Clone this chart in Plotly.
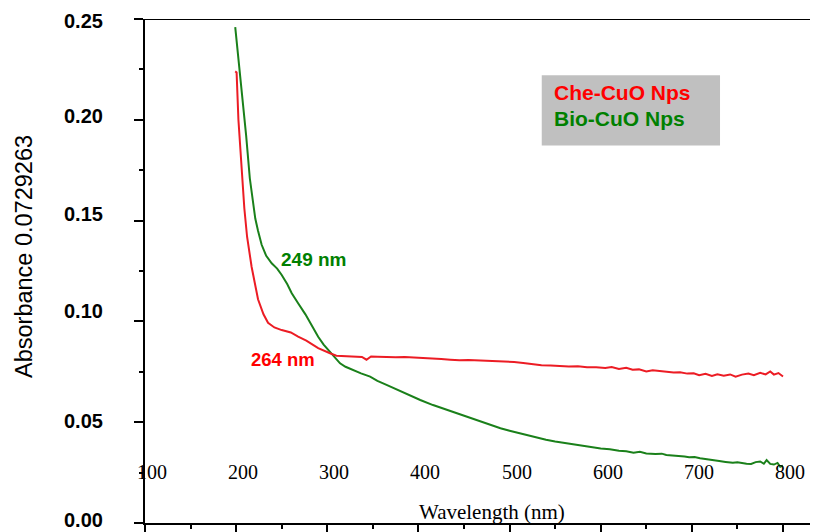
import plotly.graph_objects as go

# ---- data ----
che_nm = [199, 200.5, 202.5, 206, 209, 212, 217, 224, 230, 235, 242, 250, 260, 268, 277, 290, 298, 303,
          310, 320, 330, 338, 343, 348, 355, 365, 375, 385, 395, 405, 415, 425, 435, 445, 455, 465, 475, 485,
          495, 505, 515, 525, 535, 545, 555, 565, 575, 585, 595, 605, 612, 620, 628, 635, 642, 650, 657, 665,
          672, 680, 687, 695, 702, 708, 715, 722, 728, 735, 742, 748, 755, 762, 768, 775, 781, 786, 790, 795, 800]
che_abs = [0.2240, 0.2235, 0.2000, 0.1760, 0.1560, 0.1420, 0.1270, 0.1110, 0.1035, 0.0993, 0.0970, 0.0957, 0.0945, 0.0924, 0.0905, 0.0867, 0.0850, 0.0842,
           0.0830, 0.0828, 0.0826, 0.0824, 0.0810, 0.0826, 0.0825, 0.0823, 0.0822, 0.0823, 0.0821, 0.0820, 0.0818, 0.0814, 0.0810, 0.0807, 0.0808, 0.0806, 0.0806, 0.0804,
           0.0802, 0.0799, 0.0794, 0.0788, 0.0783, 0.0781, 0.0779, 0.0776, 0.0778, 0.0773, 0.0772, 0.0769, 0.0774, 0.0764, 0.0770, 0.0760, 0.0762, 0.0752, 0.0758, 0.0753,
           0.0751, 0.0746, 0.0748, 0.0741, 0.0743, 0.0733, 0.0740, 0.0729, 0.0738, 0.0731, 0.0737, 0.0726, 0.0736, 0.0741, 0.0733, 0.0745, 0.0737, 0.0752, 0.0736, 0.0744, 0.0727]

bio_nm = [199, 203, 207, 211, 215, 218, 221, 224, 228, 233, 239, 245, 250, 256, 261, 268, 276, 283, 290, 296,
          301, 309, 314, 320, 329, 337, 347, 355, 365, 375, 383, 392, 402, 416, 430, 443, 453, 465, 477,
          490, 500, 510, 526, 540, 550, 563, 575, 590, 600, 610, 620, 628, 636, 643, 650, 660, 667, 672, 680,
          685, 692, 697, 703, 709, 715, 720, 726, 730, 737, 745, 750, 755, 760, 765, 770, 775, 779, 782, 786,
          790, 794, 797, 800]
bio_abs = [0.2460, 0.2290, 0.2110, 0.1920, 0.1710, 0.1600, 0.1510, 0.1450, 0.1380, 0.1325, 0.1288, 0.1262, 0.1230, 0.1185, 0.1140, 0.1090, 0.1035, 0.0980, 0.0924, 0.0885,
           0.0858, 0.0815, 0.0792, 0.0775, 0.0757, 0.0742, 0.0726, 0.0705, 0.0685, 0.0665, 0.0648, 0.0628, 0.0610, 0.0585, 0.0563, 0.0542, 0.0527, 0.0508, 0.0490,
           0.0470, 0.0458, 0.0446, 0.0428, 0.0413, 0.0404, 0.0395, 0.0387, 0.0376, 0.0370, 0.0366, 0.0358, 0.0356, 0.0349, 0.0353, 0.0345, 0.0342, 0.0344, 0.0337, 0.0335,
           0.0333, 0.0330, 0.0326, 0.0327, 0.0321, 0.0316, 0.0313, 0.0309, 0.0307, 0.0303, 0.0299, 0.0301, 0.0296, 0.0294, 0.0293, 0.0302, 0.0305, 0.0294, 0.0312, 0.0293,
           0.0290, 0.0298, 0.0279, 0.0285]

x_ticks = [100, 200, 300, 400, 500, 600, 700, 800]
x_ticktext = ["100", "200", "300", "400", "500", "600", "700", "800"]
y_ticks = [0.00, 0.05, 0.10, 0.15, 0.20, 0.25]
y_ticktext = ["0.00", "0.05", "0.10", "0.15", "0.20", "0.25"]

series_names = ["Che-CuO Nps", "Bio-CuO Nps"]
peak_labels = ["264 nm", "249 nm"]

# style: vertical pixel offsets of the y tick labels relative to their ticks (as placed in the reference)
y_label_shift = [3, 1, 10, 7, 4, -2]

RED = "#ec1c24"
GREEN = "#1a801a"

fig = go.Figure()
fig.add_trace(go.Scatter(x=bio_nm, y=bio_abs, mode="lines", name=series_names[1],
                         line=dict(color=GREEN, width=2)))
fig.add_trace(go.Scatter(x=che_nm, y=che_abs, mode="lines", name=series_names[0],
                         line=dict(color=RED, width=2)))

serif = "Liberation Serif, Times New Roman, serif"
sans = "Liberation Sans, Arial, sans-serif"

# the page body adds an 8px offset, so the figure is 810x524 and margins compensate
fig.update_layout(
    width=810, height=524,
    margin=dict(l=137, r=0, t=11, b=9, autoexpand=False),
    paper_bgcolor="white", plot_bgcolor="white",
    showlegend=False,
    xaxis=dict(
        range=[100, 838.4], showgrid=False, zeroline=False, automargin=False,
        showline=True, linecolor="black", linewidth=2,
        tickmode="array", tickvals=x_ticks, showticklabels=False,
        ticks="outside", ticklen=9, tickwidth=2, tickcolor="black",
        minor=dict(dtick=50, tick0=100, ticks="outside", ticklen=4, tickwidth=2, tickcolor="black"),
    ),
    yaxis=dict(
        range=[0, 0.25], showgrid=False, zeroline=False, automargin=False,
        showline=True, linecolor="black", linewidth=2,
        tickmode="array", tickvals=y_ticks, showticklabels=False,
        ticks="outside", ticklen=9, tickwidth=2, tickcolor="black",
        minor=dict(dtick=0.025, tick0=0, ticks="outside", ticklen=4, tickwidth=2, tickcolor="black"),
    ),
)

# y tick labels
for v, t, s in zip(y_ticks, y_ticktext, y_label_shift):
    fig.add_annotation(x=0, y=v, xref="paper", yref="y", text=t, showarrow=False,
                       xanchor="right", yanchor="middle", xshift=-40, yshift=s,
                       font=dict(family=sans, size=20, color="black", weight="bold"))

# x tick labels drawn inside the plot area (as in the reference)
for v, t in zip(x_ticks, x_ticktext):
    fig.add_annotation(x=v, y=0.0254, xref="x", yref="y", text=t, showarrow=False,
                       xanchor="center", yanchor="middle", xshift=7,
                       font=dict(family=serif, size=20, color="black"))

# top border line
fig.add_shape(type="line", xref="paper", yref="y", x0=0, x1=1, y0=0.25, y1=0.25,
              line=dict(color="black", width=2))

# legend box
fig.add_shape(type="rect", xref="x", yref="y", x0=535.3, x1=730.9, y0=0.1872, y1=0.2221,
              fillcolor="#c0c0c0", line=dict(width=0), layer="below")

fig.add_annotation(x=546.5, y=0.2134, xref="x", yref="y", text=series_names[0], showarrow=False,
                   xanchor="left", yanchor="middle", font=dict(family=sans, weight="bold", size=21, color="#ff0000"))
fig.add_annotation(x=546.5, y=0.2007, xref="x", yref="y", text=series_names[1], showarrow=False,
                   xanchor="left", yanchor="middle", font=dict(family=sans, weight="bold", size=21, color="#008000"))

# peak labels
fig.add_annotation(x=214.5, y=0.0812, xref="x", yref="y", text=peak_labels[0], showarrow=False,
                   xanchor="left", yanchor="middle", font=dict(family=sans, weight="bold", size=18.5, color="#ff0000"))
fig.add_annotation(x=247.5, y=0.1308, xref="x", yref="y", text=peak_labels[1], showarrow=False,
                   xanchor="left", yanchor="middle", font=dict(family=sans, weight="bold", size=19, color="#008000"))

# axis titles
fig.add_annotation(x=480.7, y=0.0055, xref="x", yref="y", text="Wavelength (nm)", showarrow=False,
                   xanchor="center", yanchor="middle",
                   font=dict(family=serif, size=21, color="black"))
fig.add_annotation(x=-0.179, y=0.1322, xref="paper", yref="y", text="Absorbance 0.0729263", showarrow=False,
                   textangle=-90, xanchor="center", yanchor="middle",
                   font=dict(family=sans, size=23.5, color="black"))

fig.write_html("out.html")
